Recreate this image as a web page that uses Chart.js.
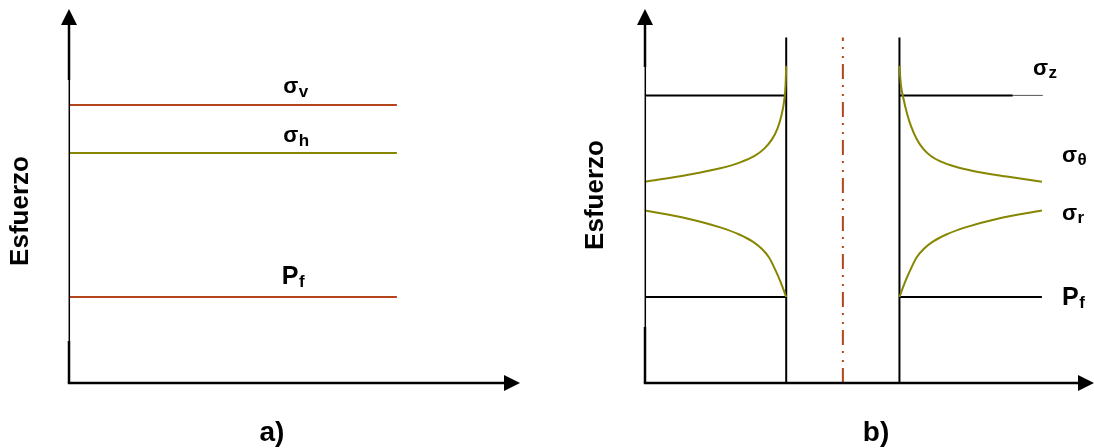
<!DOCTYPE html>
<html>
<head>
<meta charset="utf-8">
<script src="https://cdn.jsdelivr.net/npm/chart.js@4.4.1/dist/chart.umd.min.js"></script>
<style>
  html, body { margin: 0; padding: 0; background: #ffffff; }
  #wrap { position: relative; width: 1094px; height: 448px; overflow: hidden; }
  .pane { position: absolute; top: 0; width: 547px; height: 448px; }
</style>
</head>
<body>
<div id="wrap">
  <div class="pane" style="left:0"><canvas id="panelA" width="547" height="448"></canvas></div>
  <div class="pane" style="left:547px"><canvas id="panelB" width="547" height="448"></canvas></div>
</div>
<script>
// ---- Panel a): far-field stresses, constant with distance ----
const farX = [0, 72.7];
const sigmaV = 74.3;
const sigmaH = 61.5;
const poreA = 23.0;

// ---- Panel b): stresses around the borehole ----
const wallX = [31.45, 56.67];        // borehole walls
const boreAxisX = 44.07;             // borehole centre line
const wallTop = 92.4;
const sigmaZ = 76.9;
const poreB = 23.0;
const leftSpan = [0, 31.45];
const rightSpan = [56.67, 88.4];
const sigmaZRightSolid = [56.67, 81.9];
const sigmaZRightFaint = [81.9, 88.6];

// hoop stress (sigma theta), left and right of the hole
const thetaLeftX  = [0, 9.35, 16.76, 21.2, 24.5, 26.5, 28.2, 29.5, 30.4, 31.0, 31.3, 31.45];
const thetaLeftY  = [53.8, 55.6, 57.4, 59.0, 60.8, 62.6, 65.0, 68.0, 71.6, 75.5, 79.5, 84.8];
const thetaRightX = [56.67, 56.97, 57.57, 58.37, 59.27, 60.47, 61.97, 63.67, 65.67, 69.17, 73.07, 80.57, 88.4];
const thetaRightY = [84.8, 80.0, 76.0, 72.0, 68.6, 65.3, 62.6, 60.7, 59.3, 57.8, 56.7, 55.2, 53.8];
// radial stress (sigma r)
const radLeftX  = [0, 9.35, 16.76, 21.0, 24.0, 26.0, 27.6, 29.0, 30.3, 31.45];
const radLeftY  = [46.1, 44.0, 41.6, 39.7, 37.8, 35.9, 33.6, 30.3, 26.7, 23.0];
const radRightX = [56.67, 57.82, 59.12, 60.52, 62.12, 64.12, 67.12, 71.36, 78.77, 88.4];
const radRightY = [23.0, 26.7, 30.3, 33.6, 35.9, 37.8, 39.7, 41.6, 44.0, 46.1];

const BROWN = '#b4441a';
const OLIVE = '#868600';
const INK = '#000000';
const FONT = '"Liberation Sans", Arial, Helvetica, sans-serif';

const pts = (xs, ys) => xs.map((x, i) => ({ x, y: ys[i] }));
const hline = (xs, y) => xs.map(x => ({ x, y }));
const vline = (x, y0, y1) => [{ x, y: y0 }, { x, y: y1 }];

function line(data, color, width, extra) {
  return Object.assign({
    data, borderColor: color, borderWidth: width, showLine: true,
    pointRadius: 0, pointHoverRadius: 0, fill: false, tension: 0
  }, extra || {});
}

// axes with arrow heads, greek labels, captions
const decor = {
  id: 'decor',
  afterDatasetsDraw(chart, args, o) {
    const { ctx, chartArea: ca, scales } = chart;
    const L = ca.left, B = ca.bottom, T = ca.top, R = ca.right;
    ctx.save();
    ctx.fillStyle = INK;
    ctx.strokeStyle = INK;
    ctx.lineCap = 'butt';
    // vertical axis: heavier near the ends, lighter in the middle
    const ah = 16, aw = 8;
    ctx.lineWidth = 2.5;
    ctx.beginPath(); ctx.moveTo(L, T + ah - 1); ctx.lineTo(L, T + o.thinFrom); ctx.stroke();
    ctx.beginPath(); ctx.moveTo(L, T + o.thinTo); ctx.lineTo(L, B); ctx.stroke();
    ctx.lineWidth = 1.5;
    ctx.beginPath(); ctx.moveTo(L + 0.3, T + o.thinFrom); ctx.lineTo(L + 0.3, T + o.thinTo); ctx.stroke();
    ctx.beginPath(); ctx.moveTo(L, T); ctx.lineTo(L - aw, T + ah); ctx.lineTo(L + aw, T + ah); ctx.closePath(); ctx.fill();
    // horizontal axis
    ctx.lineWidth = 2.5;
    ctx.beginPath(); ctx.moveTo(L - 1.2, B); ctx.lineTo(R - ah + 1, B); ctx.stroke();
    ctx.beginPath(); ctx.moveTo(R, B); ctx.lineTo(R - ah, B - aw); ctx.lineTo(R - ah, B + aw); ctx.closePath(); ctx.fill();

    // series labels
    ctx.textBaseline = 'alphabetic';
    ctx.textAlign = 'left';
    o.labels.forEach(lb => {
      const px = lb.px != null ? lb.px : scales.x.getPixelForValue(lb.x);
      const py = scales.y.getPixelForValue(lb.y) + lb.dy;
      ctx.font = 'bold ' + lb.size + 'px ' + FONT;
      ctx.fillText(lb.main, px, py);
      const w = ctx.measureText(lb.main).width;
      ctx.font = 'bold ' + lb.subSize + 'px ' + FONT;
      ctx.fillText(lb.sub, px + w + 0.5, py + lb.subDy);
    });

    // y title
    ctx.save();
    ctx.font = 'bold 26px ' + FONT;
    ctx.textAlign = 'center';
    ctx.translate(o.yTitleX, o.yTitleY);
    ctx.rotate(-Math.PI / 2);
    ctx.fillText('Esfuerzo', 0, 0);
    ctx.restore();

    // panel caption
    ctx.font = 'bold 28px ' + FONT;
    ctx.textAlign = 'center';
    ctx.fillText(o.caption, o.captionX, 441);
    ctx.restore();
  }
};

function baseOptions(padding, decorOpts) {
  return {
    responsive: false,
    animation: false,
    events: [],
    layout: { padding },
    scales: {
      x: { type: 'linear', min: 0, max: 100, display: false },
      y: { type: 'linear', min: 0, max: 100, display: false }
    },
    plugins: { legend: { display: false }, tooltip: { enabled: false }, decor: decorOpts }
  };
}

const smooth = { cubicInterpolationMode: 'monotone', order: 0 };

// ---------- panel a ----------
new Chart(document.getElementById('panelA'), {
  type: 'scatter',
  data: {
    datasets: [
      line(hline(farX, sigmaV), BROWN, 2),
      line(hline(farX, sigmaH), OLIVE, 2),
      line(hline(farX, poreA), BROWN, 2)
    ]
  },
  options: baseOptions({ left: 69, right: 27, top: 9, bottom: 65 }, {
    thinFrom: 71, thinTo: 332,
    yTitleX: 28, yTitleY: 211,
    caption: 'a)', captionX: 272,
    labels: [
      { main: 'σ', sub: 'v', x: 47.5, y: sigmaV, dy: -12, size: 22, subSize: 17, subDy: 4 },
      { main: 'σ', sub: 'h', x: 47.5, y: sigmaH, dy: -11, size: 22, subSize: 17, subDy: 4 },
      { main: 'P', sub: 'f', x: 47.2, y: poreA, dy: -13, size: 25, subSize: 17, subDy: 3 }
    ]
  }),
  plugins: [decor]
});

// ---------- panel b ----------
new Chart(document.getElementById('panelB'), {
  type: 'scatter',
  data: {
    datasets: [
      line(pts(thetaLeftX, thetaLeftY), OLIVE, 2, smooth),
      line(pts(thetaRightX, thetaRightY), OLIVE, 2, smooth),
      line(pts(radLeftX, radLeftY), OLIVE, 2, smooth),
      line(pts(radRightX, radRightY), OLIVE, 2, smooth),
      line(hline(leftSpan, sigmaZ), INK, 2, { order: 1 }),
      line(hline(sigmaZRightSolid, sigmaZ), INK, 2, { order: 1 }),
      line(hline(sigmaZRightFaint, sigmaZ), '#555555', 1, { order: 1 }),
      line(hline(leftSpan, poreB), INK, 2, { order: 1 }),
      line(hline(rightSpan, poreB), INK, 2, { order: 1 }),
      line(vline(wallX[0], 0, wallTop), INK, 2, { order: 1 }),
      line(vline(wallX[1], 0, wallTop), INK, 2, { order: 1 }),
      line(vline(boreAxisX, 0, wallTop), BROWN, 2, { order: 1, borderDash: [15, 6, 2, 7, 2, 6] })
    ]
  },
  options: baseOptions({ left: 98, right: 0, top: 9, bottom: 65 }, {
    thinFrom: 58, thinTo: 318,
    yTitleX: 56, yTitleY: 195,
    caption: 'b)', captionX: 329,
    labels: [
      { main: 'σ', sub: 'z', px: 486, y: sigmaZ, dy: -20, size: 22, subSize: 17, subDy: 3 },
      { main: 'σ', sub: 'θ', px: 515, y: thetaRightY[thetaRightY.length - 1], dy: -20, size: 22, subSize: 17, subDy: 3 },
      { main: 'σ', sub: 'r', px: 515, y: radRightY[radRightY.length - 1], dy: 9, size: 22, subSize: 17, subDy: 3 },
      { main: 'P', sub: 'f', px: 515, y: poreB, dy: 8, size: 25, subSize: 17, subDy: 3 }
    ]
  }),
  plugins: [decor]
});
</script>
</body>
</html>
